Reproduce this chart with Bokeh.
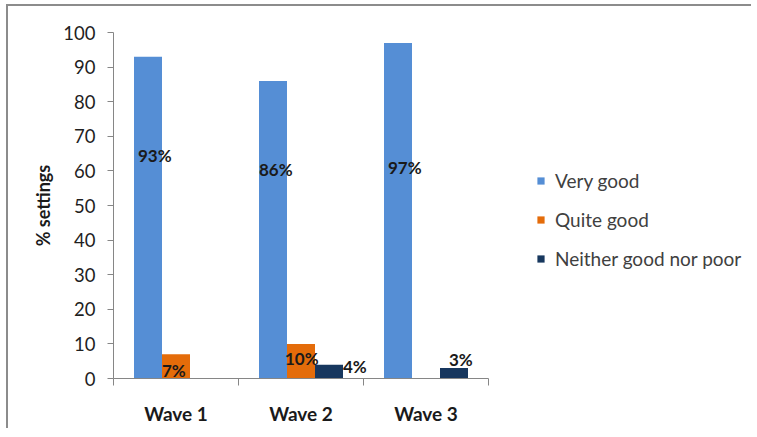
from bokeh.plotting import figure
from bokeh.models import (Range1d, LinearAxis, FixedTicker, Legend, LegendItem,
                          ColumnDataSource)
from bokeh.transform import dodge
from bokeh.core.properties import value
from bokeh.embed import file_html
from bokeh.resources import INLINE

# Ratings of settings across three survey waves (% of settings)
waves = ["Wave 1", "Wave 2", "Wave 3"]
very_good = [93, 86, 97]
quite_good = [7, 10, 0]
neither = [0, 4, 3]
series_names = ["Very good", "Quite good", "Neither good nor poor"]
y_ticks = [0, 10, 20, 30, 40, 50, 60, 70, 80, 90, 100]

# Styling
colors = ["#558ED5", "#E46C0A", "#17375E"]
bar_w = 0.224
offsets = [-bar_w, 0.0, bar_w]
axis_grey = "#868686"
font = "Lato"
px_per_wave = 125          # horizontal size of one wave's slot
fig_w, fig_h = 745, 424
left_px = 105
frame_px = fig_w - left_px  # plot frame width (slots + legend area)

# Hand-placed data-label anchors (left edge of the bar + pixel nudge, y in data units)
label_nudge_px = [[4, 0, 4], [0, -2, 0], [0, 28, 9]]
label_y = [[64.4, 60.4, 61.0], [2.3, 5.8, 0.0], [0.0, 3.5, 5.5]]

series_values = [very_good, quite_good, neither]

# one unit of x per wave; wave i is centred at i + 0.5
n = len(waves)
centers = [i + 0.5 for i in range(n)]
edges = list(range(n + 1))

p = figure(x_range=Range1d(0, frame_px / px_per_wave), y_range=Range1d(0, 100),
           width=fig_w, height=fig_h, output_backend="svg", toolbar_location=None,
           x_axis_location=None, y_axis_location="left",
           min_border_left=left_px, min_border_right=0,
           min_border_top=26, min_border_bottom=fig_h - 372)
# chart-area frame: grey rule along the top and left edges
p.styles = {"margin-left": "8px", "margin-top": "6px",
            "box-shadow": "-2px -2px 0 0 #8c8c8c"}

p.outline_line_color = None
p.xgrid.visible = False
p.ygrid.visible = False
p.background_fill_color = "white"
p.border_fill_color = "white"

bar_renderers = []
for i, vals in enumerate(series_values):
    src = ColumnDataSource(dict(pos=centers, top=vals))
    r = p.vbar(x=dodge("pos", offsets[i]), top="top",
               width=bar_w, source=src, fill_color=colors[i], line_color=None)
    bar_renderers.append(r)

    # data labels for non-zero values
    keep = [j for j, v in enumerate(vals) if v > 0]
    lsrc = ColumnDataSource(dict(
        pos=[centers[j] for j in keep],
        text=[f"{vals[j]}%" for j in keep],
        y=[label_y[i][j] for j in keep],
        xoff=[label_nudge_px[i][j] for j in keep],
    ))
    p.text(x=dodge("pos", offsets[i] - bar_w / 2), y="y",
           text="text", x_offset="xoff", source=lsrc,
           text_font=value(font), text_font_style="bold",
           text_font_size="17px", text_color="#1a1a1a",
           text_align="left", text_baseline="middle")

# y axis
yax = p.yaxis[0]
yax.ticker = FixedTicker(ticks=y_ticks)
yax.axis_line_color = axis_grey
yax.major_tick_line_color = axis_grey
yax.major_tick_out = 6
yax.major_tick_in = 0
yax.minor_tick_line_color = None
yax.major_label_standoff = 12
yax.major_label_text_font = font
yax.major_label_text_font_size = "18.5px"
yax.major_label_text_color = "#1f1f1f"
yax.axis_label = "% settings"
yax.axis_label_text_font = font
yax.axis_label_text_font_style = "bold"
yax.axis_label_text_font_size = "18px"
yax.axis_label_text_color = "#1a1a1a"
yax.axis_label_standoff = 6

# x axis: names under each wave, short ticks on the boundaries between waves
xax = LinearAxis(ticker=FixedTicker(ticks=centers, minor_ticks=edges),
                 bounds=(0, n),
                 major_label_overrides={c: w for c, w in zip(centers, waves)},
                 axis_line_color=axis_grey,
                 major_tick_line_color=None, major_tick_out=0, major_tick_in=0,
                 minor_tick_line_color=axis_grey, minor_tick_out=7, minor_tick_in=0,
                 major_label_standoff=16,
                 major_label_text_font=font,
                 major_label_text_font_style="bold",
                 major_label_text_font_size="19px",
                 major_label_text_color="#1a1a1a")
p.add_layout(xax, "below")

legend = Legend(items=[LegendItem(label=s, renderers=[r])
                       for s, r in zip(series_names, bar_renderers)],
                location=(423, 108), orientation="vertical",
                border_line_color=None, background_fill_alpha=0,
                padding=0, margin=0, glyph_width=9, glyph_height=9,
                label_standoff=10, label_height=20, spacing=16,
                label_text_font=font, label_text_font_size="19px",
                label_text_color="#404040")
p.add_layout(legend, "center")

open("out.html", "w").write(file_html(p, INLINE))
